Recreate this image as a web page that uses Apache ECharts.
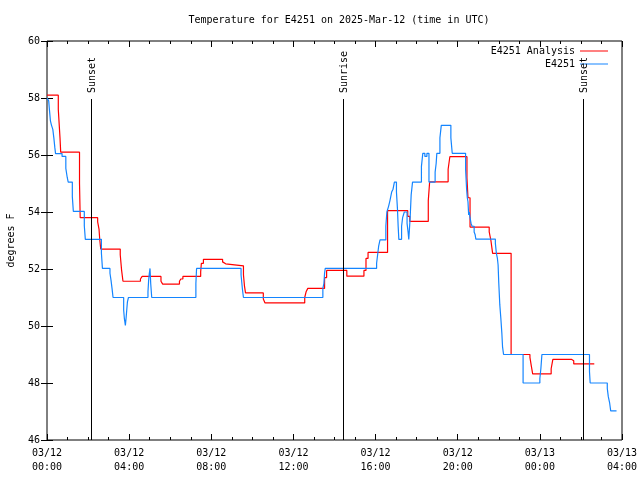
<!DOCTYPE html>
<html>
<head>
<meta charset="utf-8">
<script src="https://cdn.jsdelivr.net/npm/echarts@6/dist/echarts.min.js"></script>
<style>html,body{margin:0;padding:0;background:#fff}#c{width:640px;height:480px}</style>
</head>
<body>
<div id="c"></div>
<script>
// minutes since 2025-03-12 00:00 UTC
const redTimes = [0,33,38,40,95,97,148,152,154,157,214,218,222,273,278,333,338,387,391,397,449,451,457,513,517,522,574,577,580,632,637,753,757,762,811,817,876,926,932,938,995,1054,1060,1114,1118,1172,1177,1227,1230,1236,1292,1297,1302,1356,1411,1415,1419,1473,1478,1532,1539,1599];
const redValues = [58.1,57.6,56.6,56.1,55.0,53.8,53.65,53.4,53.05,52.7,52.5,51.95,51.57,51.65,51.74,51.57,51.47,51.57,51.65,51.74,51.9,52.2,52.34,52.25,52.18,52.11,51.8,51.4,51.16,50.95,50.81,51.0,51.2,51.32,51.7,51.95,51.75,51.95,52.37,52.58,54.05,53.85,53.67,54.4,55.06,55.5,55.94,55.2,54.5,53.47,53.3,53.0,52.55,49.0,48.9,48.6,48.32,48.5,48.83,48.78,48.67,48.67];

const blueTimes = [0,5,7,10,13,17,20,23,25,44,55,59,62,74,77,109,112,159,162,184,187,190,193,224,226,229,231,233,235,238,295,297,299,301,303,306,435,437,567,571,574,806,809,811,813,963,966,969,973,990,993,998,1002,1007,1011,1015,1021,1024,1026,1028,1036,1039,1044,1052,1055,1057,1061,1064,1068,1094,1098,1104,1110,1116,1134,1137,1139,1148,1152,1180,1184,1223,1226,1228,1230,1232,1234,1236,1239,1242,1248,1251,1253,1310,1313,1316,1318,1320,1323,1326,1329,1331,1334,1391,1440,1443,1446,1585,1587,1637,1640,1644,1647,1664];
const blueValues = [58.0,57.9,57.6,57.2,57.05,56.9,56.6,56.25,56.05,55.95,55.53,55.22,55.05,54.54,54.02,53.52,53.04,52.55,52.02,51.85,51.61,51.32,51.0,50.56,50.27,50.02,50.27,50.56,50.85,51.0,51.2,51.61,51.85,52.02,51.49,51.0,51.49,52.02,51.79,51.29,51.0,51.32,51.49,51.85,52.02,52.2,52.5,52.8,53.02,53.5,54.0,54.2,54.4,54.7,54.8,55.05,54.7,54.1,53.5,53.04,53.5,53.8,54.0,53.6,53.3,53.04,53.8,54.6,55.05,55.6,56.06,55.95,56.06,55.05,55.4,55.7,56.06,56.6,57.04,56.6,56.06,55.5,54.8,54.5,54.36,53.9,54.0,53.8,53.6,53.5,53.3,53.2,53.05,52.9,52.55,52.37,52.14,51.5,50.74,50.27,49.74,49.27,49.0,48.0,48.16,48.51,49.0,48.4,48.0,47.81,47.52,47.29,47.02,47.02];

const eventTimes = [128, 865, 1567];
const eventNames = ['Sunset', 'Sunrise', 'Sunset'];

const yTicks = [46, 48, 50, 52, 54, 56, 58, 60];
const xMin = 0, xMax = 1680, xStep = 240;

const FONT = '"DejaVu Sans Mono", "Liberation Mono", monospace';
const zip = (a, b) => a.map((t, i) => [t, b[i]]);

function xLabel(v) {
  const day = 12 + Math.floor(v / 1440);
  const h = Math.floor((v % 1440) / 60);
  return '03/' + String(day).padStart(2, '0') + '\n' + String(h).padStart(2, '0') + ':00';
}

const chart = echarts.init(document.getElementById('c'), null, {renderer: 'canvas'});
const baseX = {
  type: 'value', min: xMin, max: xMax, interval: xStep,
  axisLine: {show: false},
  axisTick: {show: true, inside: true, length: 6, lineStyle: {color: '#000'}},
  minorTick: {show: true, splitNumber: 4, length: 3, lineStyle: {color: '#000'}},
  splitLine: {show: false}, minorSplitLine: {show: false}
};
const baseY = {
  type: 'value', min: yTicks[0], max: yTicks[yTicks.length - 1], interval: 2,
  axisLine: {show: false},
  axisTick: {show: true, inside: true, length: 6, lineStyle: {color: '#000'}},
  splitLine: {show: false}
};
chart.setOption({
  animation: false,
  backgroundColor: '#fff',
  title: {
    text: 'Temperature for E4251 on 2025-Mar-12 (time in UTC)',
    left: 334, top: 10, textAlign: 'center',
    textStyle: {fontFamily: FONT, fontSize: 10, fontWeight: 'normal', color: '#000'}
  },
  legend: {
    data: ['E4251 Analysis', 'E4251'],
    orient: 'vertical', right: 27, top: 40, align: 'right',
    icon: 'rect', itemWidth: 28, itemHeight: 1, itemGap: 1,
    textStyle: {fontFamily: FONT, fontSize: 10, color: '#000', lineHeight: 12}
  },
  grid: {left: 47, right: 18, top: 41, bottom: 40, show: true, borderColor: '#000', borderWidth: 1,
    backgroundColor: 'transparent', containLabel: false, outerBoundsMode: 'none'},
  xAxis: [
    Object.assign({}, baseX, {position: 'bottom',
      axisLabel: {formatter: xLabel, fontFamily: FONT, fontSize: 10, color: '#000', margin: 6, lineHeight: 14}}),
    Object.assign({}, baseX, {position: 'top', axisLabel: {show: false}})
  ],
  yAxis: [
    Object.assign({}, baseY, {position: 'left', name: 'degrees F', nameLocation: 'middle', nameGap: 31, nameRotate: 90,
      nameTextStyle: {fontFamily: FONT, fontSize: 10, color: '#000'},
      axisLabel: {fontFamily: FONT, fontSize: 10, color: '#000', margin: 7}}),
    Object.assign({}, baseY, {position: 'right', axisLabel: {show: false}})
  ],
  series: [
    {name: 'E4251 Analysis', type: 'line', step: 'end', symbol: 'none', data: zip(redTimes, redValues),
      color: '#ff0000', lineStyle: {width: 1.2, color: '#ff0000'}, z: 3},
    {name: 'E4251', type: 'line', step: 'end', symbol: 'none', data: zip(blueTimes, blueValues),
      color: '#1485ff', lineStyle: {width: 1.2, color: '#1485ff'}, z: 4},
    {name: 'events', type: 'custom', data: eventTimes.map(t => [t]), encode: {x: 0},
      renderItem: function (params, api) {
        const t = api.value(0);
        const b = api.coord([t, yTicks[0]]);
        const tp = api.coord([t, yTicks[yTicks.length - 1]]);
        const x = Math.round(b[0]) + 0.5;
        return {type: 'group', children: [
          {type: 'line', shape: {x1: x, y1: b[1], x2: x, y2: tp[1] + 58}, style: {stroke: '#000', lineWidth: 1}},
          {type: 'text', x: x + 1, y: tp[1] + 52, rotation: Math.PI / 2,
            style: {text: eventNames[params.dataIndex], font: '10px ' + FONT, fill: '#000', textAlign: 'left', textVerticalAlign: 'middle'}}
        ]};
      }, z: 5}
  ]
});
</script>
</body>
</html>
